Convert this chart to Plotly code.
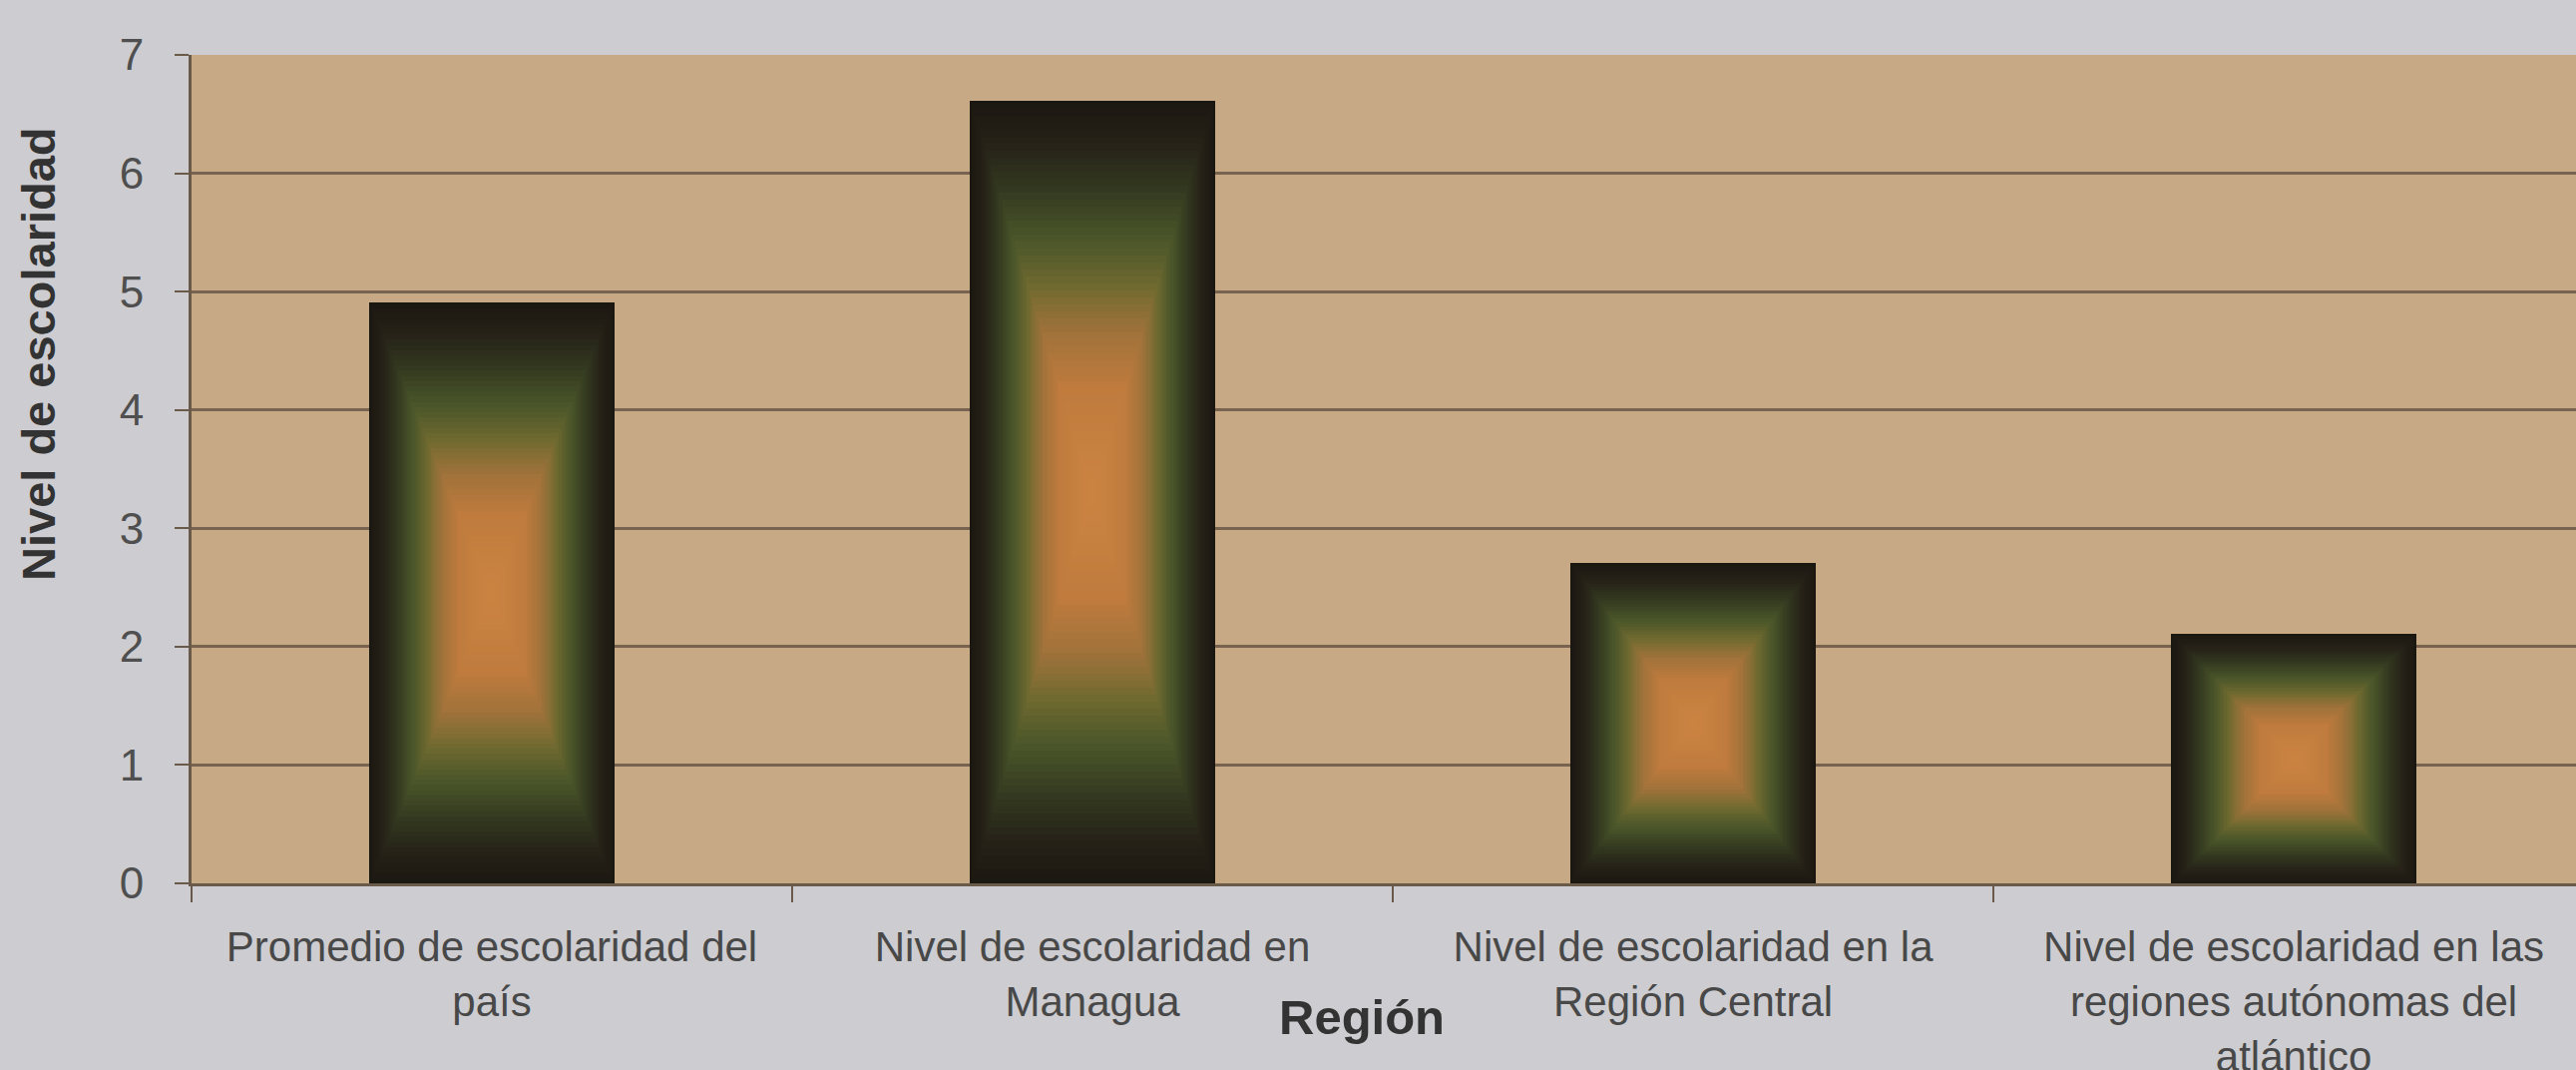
import plotly.graph_objects as go
from plotly.colors import sample_colorscale

# ---- data ----
categories = [
    "Promedio de escolaridad del<br>país",
    "Nivel de escolaridad en<br>Managua",
    "Nivel de escolaridad en la<br>Región Central",
    "Nivel de escolaridad en las<br>regiones autónomas del<br>atlántico",
]
values = [4.9, 6.6, 2.7, 2.1]
y_ticks = [0, 1, 2, 3, 4, 5, 6, 7]
y_title = "Nivel de escolaridad"
x_title = "Región"

# ---- style ----
BAR_WIDTH = 0.405
N_LAYERS = 56
grad = [
    [0.00, "#1c1812"],
    [0.10, "#262218"],
    [0.22, "#343a20"],
    [0.34, "#4a5529"],
    [0.46, "#6e6a30"],
    [0.58, "#a0723a"],
    [0.72, "#bf7b3d"],
    [1.00, "#cc8442"],
]
FONT = "Liberation Sans, Arial, sans-serif"
GRID = "#776350"

fig = go.Figure()

# rectangular "from centre" gradient: nested bars shrinking toward the centre
ts = [k / N_LAYERS for k in range(N_LAYERS)]
cols = sample_colorscale(grad, ts)
for t, c in zip(ts, cols):
    fig.add_trace(go.Bar(
        x=categories,
        y=[v * (1 - t) for v in values],
        base=[v * t / 2 for v in values],
        width=BAR_WIDTH * (1 - t),
        marker=dict(color=c,
                    line=dict(color="#1a1610" if t == 0 else c, width=2 if t == 0 else 0)),
        showlegend=False,
        hoverinfo="skip",
    ))

fig.update_layout(
    width=2582, height=1072,
    margin=dict(l=192, r=0, t=55, b=187),
    paper_bgcolor="#cdcdd1",
    plot_bgcolor="#c7a985",
    barmode="overlay",
    bargap=0,
    font=dict(family=FONT, color="#4a4a4a"),
    xaxis=dict(
        type="category",
        range=[-0.5, 3.47],
        automargin=False,
        tickson="boundaries",
        ticks="outside", ticklen=16, tickwidth=2, tickcolor="#6a5a4a",
        showline=True, linecolor="#6a5a4a", linewidth=3,
        showgrid=False,
        tickfont=dict(size=42, family=FONT, color="#484848"),
        ticklabelstandoff=25,
    ),
    yaxis=dict(
        range=[0, 7],
        automargin=False,
        tickvals=y_ticks,
        ticks="outside", ticklen=14, tickwidth=2, tickcolor="#6a5a4a",
        showline=True, linecolor="#6a5a4a", linewidth=3,
        showgrid=True, gridcolor=GRID, gridwidth=3,
        zeroline=False,
        tickfont=dict(size=44, family=FONT, color="#4f4f4f"),
        ticklabelstandoff=22,
    ),
    annotations=[
        dict(text=y_title, xref="paper", yref="paper",
             x=(38 - 192) / 2390, y=(885 - 355) / 830,
             xanchor="center", yanchor="middle", textangle=-90,
             showarrow=False,
             font=dict(size=47, family=FONT, color="#333333", weight="bold")),
        dict(text=x_title, xref="paper", yref="paper",
             x=(1365 - 192) / 2390, y=(885 - 1019) / 830,
             xanchor="center", yanchor="middle",
             showarrow=False,
             font=dict(size=49, family=FONT, color="#333333", weight="bold")),
    ],
)

fig.write_html("out.html")
